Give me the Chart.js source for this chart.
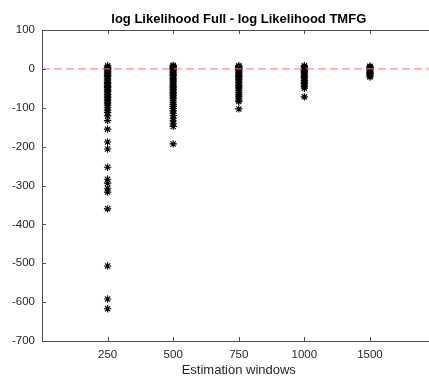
<!DOCTYPE html>
<html>
<head>
<meta charset="utf-8">
<script src="https://cdn.jsdelivr.net/npm/chart.js@4"></script>
<style>
  html, body { margin: 0; padding: 0; background: #fff; }
  #wrap { width: 429px; height: 377px; }
</style>
</head>
<body>
<div id="wrap"><canvas id="c" width="429" height="377"></canvas></div>
<script>
// categories on the x axis (plotted at 1..5)
var windows = ["250", "500", "750", "1000", "1500"];
var yTicks  = [100, 0, -100, -200, -300, -400, -500, -600, -700];

// log-lik differences
var win250  = [8, 5, 3, 1, -1, -3, -6, -8, -11, -14, -17, -20, -24, -28, -31, -35, -38, -42, -45, -48,
               -52, -55, -58, -62, -66, -70, -74, -78, -82, -86, -90, -95, -100, -106, -112, -121, -133,
               -155, -188, -206, -253, -284, -294, -307, -317, -360, -507, -592, -617];
var win500  = [9, 6, 4, 2, 0, -2, -5, -8, -11, -14, -17, -21, -25, -29, -33, -37, -41, -45, -49, -53,
               -57, -61, -65, -69, -73, -77, -82, -87, -92, -97, -102, -108, -114, -120, -127, -134,
               -141, -148, -193];
var win750  = [8, 6, 4, 2, 0, -2, -5, -8, -11, -14, -17, -20, -23, -27, -31, -35, -39, -43, -47, -51,
               -55, -60, -65, -70, -75, -80, -84, -103];
var win1000 = [8, 6, 3, 1, -1, -4, -7, -10, -13, -16, -19, -22, -26, -30, -34, -38, -42, -46, -50, -72];
var win1500 = [7, 5, 3, 1, -1, -3, -6, -9, -12, -15, -18, -21];

var TITLE  = "log Likelihood Full - log Likelihood TMFG";
var XLABEL = "Estimation windows";
var AXCOL  = "#4d4d4d";
var TXTCOL = "#262626";
var FONT   = "'Liberation Sans', Arial, sans-serif";

var cols = [win250, win500, win750, win1000, win1500];
var pts = [];
for (var i = 0; i < cols.length; i++) {
  for (var j = 0; j < cols[i].length; j++) pts.push({ x: i + 1, y: cols[i][j] });
}

// box top, inward ticks, titles - matlab look
var matlabBits = {
  id: "matlabBits",
  afterDraw: function(chart) {
    var ctx = chart.ctx, a = chart.chartArea;
    var xs = chart.scales.x, ys = chart.scales.y;
    ctx.save();
    ctx.strokeStyle = AXCOL;
    ctx.lineWidth = 1;
    ctx.beginPath();
    ctx.moveTo(a.left, a.top + 0.5);
    ctx.lineTo(a.right, a.top + 0.5);
    for (var i = 0; i < windows.length; i++) {
      var px = Math.round(xs.getPixelForValue(i + 1)) + 0.5;
      ctx.moveTo(px, a.bottom); ctx.lineTo(px, a.bottom - 4);
      ctx.moveTo(px, a.top);    ctx.lineTo(px, a.top + 4);
    }
    for (var k = 0; k < yTicks.length; k++) {
      var py = Math.round(ys.getPixelForValue(yTicks[k])) + 0.5;
      ctx.moveTo(a.left, py); ctx.lineTo(a.left + 4, py);
    }
    ctx.stroke();

    // matlab centres these on the full [0 6] axis, which is cropped on the right
    var cx = xs.getPixelForValue(3);
    ctx.fillStyle = "#000";
    ctx.textAlign = "center";
    ctx.textBaseline = "middle";
    ctx.font = "bold 13px " + FONT;
    ctx.fillText(TITLE, cx, 19);
    ctx.fillStyle = TXTCOL;
    ctx.font = "13px " + FONT;
    ctx.fillText(XLABEL, cx, 370);
    ctx.restore();
  }
};

new Chart(document.getElementById("c"), {
  type: "scatter",
  data: {
    datasets: [
      {
        type: "line",
        data: [{ x: 0, y: 0 }, { x: 5.9, y: 0 }],
        borderColor: "#ff7070",
        borderWidth: 1,
        borderDash: [8, 4],
        pointRadius: 0,
        order: 0
      },
      {
        data: pts,
        pointStyle: "star",
        pointRadius: 3.7,
        borderColor: "#000",
        backgroundColor: "#000",
        borderWidth: 1.1,
        order: 1
      }
    ]
  },
  plugins: [matlabBits],
  options: {
    responsive: false,
    animation: false,
    layout: { autoPadding: false, padding: { top: 30, left: 0, right: 0, bottom: 0 } },
    plugins: { legend: { display: false }, tooltip: { enabled: false }, title: { display: false } },
    scales: {
      x: {
        type: "linear",
        min: 0, max: 5.9,
        afterBuildTicks: function(s) { s.ticks = windows.map(function(w, i) { return { value: i + 1 }; }); },
        afterFit: function(s) { s.height = 36; },
        ticks: {
          autoSkip: false,
          maxRotation: 0,
          padding: 7,
          color: TXTCOL,
          font: { family: FONT, size: 11.5 },
          callback: function(v) { return windows[v - 1] || ""; }
        },
        grid: { display: false, drawTicks: false },
        border: { display: true, color: AXCOL, width: 1 }
      },
      y: {
        min: -700, max: 100,
        afterBuildTicks: function(s) { s.ticks = yTicks.map(function(v) { return { value: v }; }); },
        afterFit: function(s) { s.width = 42; },
        ticks: {
          padding: 7,
          color: TXTCOL,
          font: { family: FONT, size: 11.5 }
        },
        grid: { display: false, drawTicks: false },
        border: { display: true, color: AXCOL, width: 1 }
      }
    }
  }
});
</script>
</body>
</html>
